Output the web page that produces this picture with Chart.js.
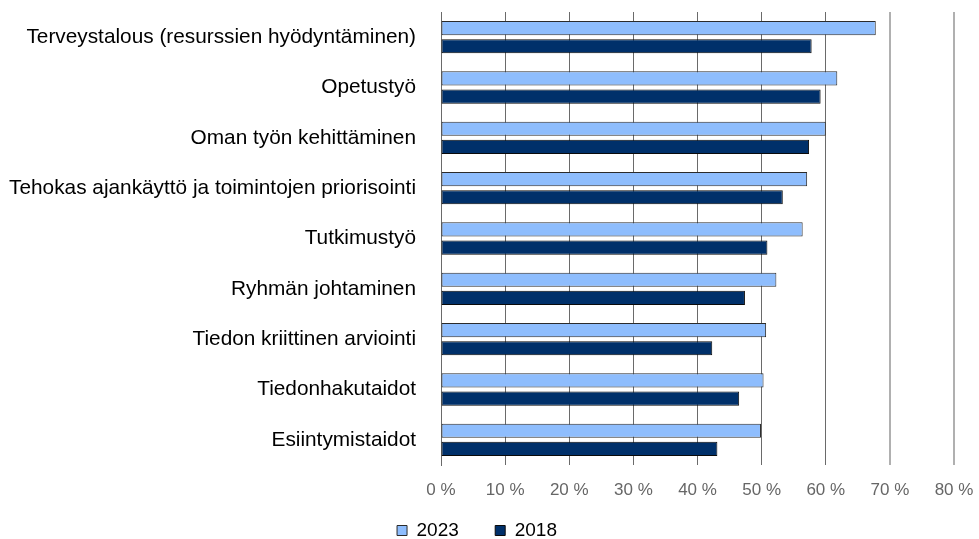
<!DOCTYPE html>
<html>
<head>
<meta charset="utf-8">
<script src="https://cdn.jsdelivr.net/npm/chart.js@4"></script>
<style>
  html, body { margin: 0; padding: 0; background: #fff; }
  #wrap { width: 979px; height: 539px; }
</style>
</head>
<body>
<div id="wrap"><canvas id="chart"></canvas></div>
<script>
const categories = [
  "Terveystalous (resurssien hyödyntäminen)",
  "Opetustyö",
  "Oman työn kehittäminen",
  "Tehokas ajankäyttö ja toimintojen priorisointi",
  "Tutkimustyö",
  "Ryhmän johtaminen",
  "Tiedon kriittinen arviointi",
  "Tiedonhakutaidot",
  "Esiintymistaidot"
];
const values2023 = [67.8, 61.8, 60.0, 57.1, 56.4, 52.3, 50.7, 50.3, 49.9];
const values2018 = [57.8, 59.2, 57.4, 53.3, 50.9, 47.4, 42.3, 46.5, 43.1];
const xTicks = [0, 10, 20, 30, 40, 50, 60, 70, 80];

const font = "'Liberation Sans', Arial, sans-serif";

const chart = new Chart(document.getElementById("chart").getContext("2d"), {
  type: "bar",
  data: {
    labels: categories,
    datasets: [
      { label: "2023", data: values2023, backgroundColor: "#8ebdfd", borderColor: "#2b2b2b", borderWidth: 1, borderSkipped: false },
      { label: "2018", data: values2018, backgroundColor: "#00306a", borderColor: "#0a0a0a", borderWidth: 1, borderSkipped: false }
    ]
  },
  options: {
    indexAxis: "y",
    responsive: true,
    maintainAspectRatio: false,
    animation: false,
    devicePixelRatio: 1,
    layout: { padding: { top: 12, right: 25, bottom: 0, left: 0 } },
    datasets: { bar: { categoryPercentage: 0.72, barPercentage: 0.78 } },
    plugins: {
      legend: {
        position: "bottom",
        labels: {
          color: "#000",
          font: { family: font, size: 19 },
          boxWidth: 10,
          boxHeight: 10,
          padding: 10,
          // widen the first item so the gap between the two entries matches
          generateLabels: c => Chart.defaults.plugins.legend.labels.generateLabels(c)
            .map((l, i) => Object.assign(l, { text: i === 0 ? l.text + "     " : l.text }))
        }
      },
      tooltip: { enabled: false }
    },
    scales: {
      x: {
        min: 0,
        max: 80,
        afterBuildTicks: s => { s.ticks = xTicks.map(v => ({ value: v })); },
        afterFit: s => {
          s.height = 46;
          s.paddingLeft = 0;
          s.paddingRight = 0;
        },
        ticks: {
          color: "#666",
          font: { family: font, size: 17 },
          padding: 15,
          callback: v => v + " %"
        },
        grid: {
          color: ctx => (ctx.tick && ctx.tick.value >= 70 ? "#b0b0b0" : "#6a6a6a"),
          lineWidth: ctx => (ctx.tick && ctx.tick.value >= 70 ? 2 : 1),
          drawTicks: false
        },
        border: { display: false }
      },
      y: {
        afterFit: s => {
          s.width = 441;
          s.paddingTop = 0;
          s.paddingBottom = 0;
        },
        ticks: {
          color: "#000",
          font: { family: font, size: 20.8 },
          padding: 17
        },
        grid: { display: false },
        border: { display: true, color: "#6a6a6a" }
      }
    }
  }
});

// keep the legend strip short, like the original
const legendFit = chart.legend.fit;
chart.legend.fit = function () {
  legendFit.call(this);
  this.height = 28;
};
chart.update();
</script>
</body>
</html>
